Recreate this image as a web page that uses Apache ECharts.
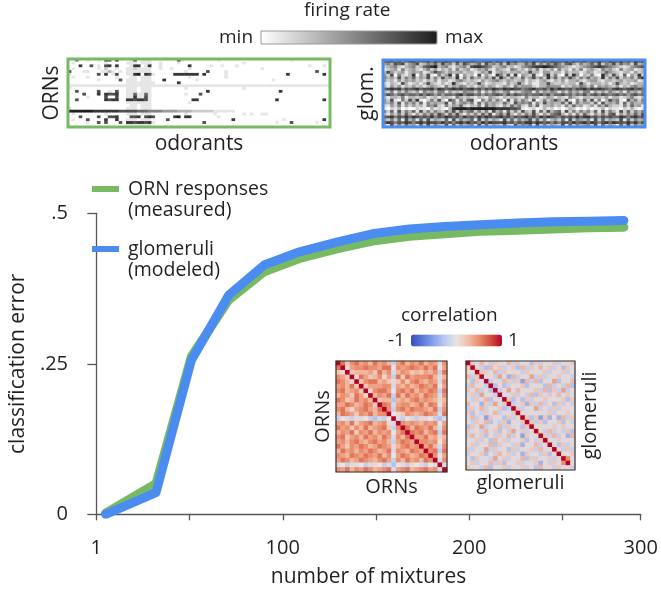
<!DOCTYPE html>
<html><head><meta charset="utf-8">
<script src="https://cdn.jsdelivr.net/npm/echarts@6/dist/echarts.min.js"></script>
<style>html,body{margin:0;padding:0;background:#fff}#c{width:661px;height:594px}</style>
</head><body><div id="c"></div>
<script>
// ---------- data ----------
const seriesNames = ['ORN responses\n(measured)', 'glomeruli\n(modeled)'];
const mixtures = [5, 32, 51, 71, 90, 109, 129, 148, 168, 187, 206, 226, 245, 264, 283];
const ornError = [0.002, 0.051, 0.262, 0.356, 0.403, 0.425, 0.441, 0.454, 0.462, 0.466, 0.470, 0.472, 0.474, 0.476, 0.477];
const glomError = [0.000, 0.036, 0.256, 0.364, 0.414, 0.436, 0.452, 0.466, 0.474, 0.478, 0.481, 0.484, 0.486, 0.487, 0.488];
const xTickValues = [0, 50, 100, 150, 200, 250, 292];
const xLabelValues = [0, 100, 200, 292];
const xLabelText = ['1', '100', '200', '300'];
const yTickValues = [0, 0.25, 0.5];
const yTickText = ['0', '.25', '.5'];

// firing-rate maps: one string per row, digit 0 (min) .. 9 (max)
const ornHeatRows = [
 "00600100 10770800 01701110 00000071 00000000 01000000 00000000 00000100 00000000",
 "01000000 00100000 11101110 01000010 00000000 00000000 10000000 00000000 00000000",
 "00080070 10780800 01880180 01000000 08000001 00100010 00000000 00000000 00100010",
 "01000000 10200100 11211110 01001000 01000000 00000000 00000100 00000000 00000000",
 "70001100 01131010 11111110 00000000 10000070 00010000 00000000 00000000 00007000",
 "10000000 70801700 11890871 00000888 88880800 00010000 00000000 00008000 00000080",
 "01000100 00000100 01101110 00000000 01000000 00010000 00000000 00000000 00000000",
 "00000000 10000070 11101110 00800000 00010000 00000000 00000000 10000000 00000000",
 "00000000 00000000 11111111 00000080 00000000 00000000 00000000 00000000 00000000",
 "11111111 11111111 11111111 11111111 11111111 11111111 11111111 11111111 11111111",
 "10000000 00000000 11101110 00000000 10000000 00000000 10000000 00000000 00000000",
 "00700000 70010700 11101110 00000000 00000080 00000000 00000000 00800000 00000000",
 "00007000 80877800 11611610 00000000 10007000 00000000 00000000 00000000 00000000",
 "00000100 00700700 11811710 00000000 00000000 00000000 00000000 00000000 00000000",
 "00700000 00878800 88788710 00000000 00880000 00000000 00000000 08000000 00000080",
 "00000000 00000000 11111110 00000000 01000000 00000000 00000000 00000000 00000000",
 "00000000 00000000 01101110 00000000 00000000 00000000 00000000 00000000 00000000",
 "10000000 00000000 11101110 00000000 00000000 00000000 00000000 00000000 00000000",
 "99999998 88888877 77766655 55444433 33222222 11111100 00000000 00000000 00000000",
 "01000000 00100000 11101110 00000000 10000000 10000000 10100110 00000000 00000000",
 "00070000 70077800 07780787 00000890 88000000 01000000 00000000 00000000 00000000",
 "01000700 00800800 11101110 00070000 00000000 00000800 00000000 00010000 00000080",
 "00000100 70700070 88788781 00000000 00000700 00000000 00000000 01000700 00001000",
 "00000000 00000000 11111110 00000000 00000000 00000000 00000000 00000000 00000000"
];
const glomHeatRows = [
 "77867578 86778687 78768677 87677868 76878677 68778687 77868778 67787687 78676878",
 "45376724 57235463 74526375 34627453 62745336 47253647 53674253 46372547 36452734",
 "23452134 52367893 45213452 78876523 45231245 67889876 54321234 56787654 32124567",
 "12341523 42135241 32415234 12435214 32154231 42513241 52314251 34215342 15234123",
 "37423413 43412475 42433423 31243713 43233423 73314423 31423312 43123643 21331423",
 "42705213 80427105 24817042 30714208 52718043 27104825 10728403 25108427 31604282",
 "53427253 62437252 73428152 63425372 84253262 47352836 25374253 63428253 72435268",
 "42314243 42313241 33124532 32142345 32432341 32134213 24133421 34421332 34233412",
 "21321731 23137321 31283213 23731232 21423731 31133732 23233173 13332313 73231233",
 "31424132 42313432 15243542 31342431 24315344 42133544 41324354 25143432 41324534",
 "67878576 78677858 76787867 86757687 68787756 78667586 87675778 68787657 87678676",
 "32514253 24153425 51423254 42514253 24513245 51524354 14253425 51424253 24153425",
 "57646756 65757646 46657857 75646567 64757656 56675746 67564657 46757656 75646756",
 "31332513 32341231 33215323 21321432 13233215 23312431 32153213 32332413 31235213",
 "42710527 38102527 20751526 71052525 30715253 17025247 42710526 27150374 51073525",
 "43527153 52615343 37152453 51625343 26317454 61527343 36271534 42617343 51625334",
 "21425142 42315462 15243621 32516342 14263521 52613342 31526341 24153632 21526341",
 "10213010 02110312 10389998 99999998 88877610 12013120 10132010 20113021 10213101",
 "52617253 61725253 26372635 62525173 51625273 27162735 61725253 52617253 17262535",
 "31425263 14253637 52637314 25263714 63731425 37314256 73141526 31425267 14253637",
 "67857686 87676857 68767586 75868767 86757678 67586876 57676868 86757676 68757867",
 "42526173 51627243 26172534 61725243 17262534 72625134 26172543 51726243 27162534",
 "68757687 57868776 86757868 67586877 78675768 86876757 57768678 68757868 77686857",
 "31725263 41627253 27162534 51726243 26217354 61725243 27162534 52716243 16272534"
];
// correlation matrices, lower triangle: '0'-'9' = 0..0.9, 'a'-'i' = -0.1..-0.9, 'X' = 1
const ornCorrTri = [
 "X","6X","21X","542X","6531X","45362X","563452X","3542641X","65236453X","446534652X",
 "5631456436X","36542546355X","b0ab1a0bcab0X","453624563451aX","645253634562b5X",
 "354625463545046X","562453645364a536X","453564356453b4654X","642546534654135645X",
 "364535465346a543654X","54365465463504653465X","465346543564b53645365X",
 "a0b1a0ba10bac0ab10ab0aX","546354653456a456345645aX"
];
const glomCorrTri = [
 "X","2X","a1X","3b2X","1c2aX","b3a1bX","2a3b1cX","a2b4a1bX","1b2a3c1aX","3a1d2b4a2X",
 "b2a3b1a2cbX","2c1b2a3b1a2X","a3b1e2a1c2b1X","1b2a3c1b2d1a2X","c2a4b1a3b2a1c2X",
 "2a1b3a2c1b4a2b1X","b3a2c1b2a3b1e2a1X","1a2b1c3a2b1a2c1b2X","a2b1a3c2a1b2d1a3b1X",
 "2b1a4b2a1c2b1a2b3a1X","b1a2c1b3a2b1d2a1b2c1X","1c2a1b4a2b1a3c2b1a2b1X",
 "a2b1a3b2c1a2b1a2d1b2a5X","2a1b3c1a2b1a2b1c3a1b2a1bX"
];

// ---------- build ----------
const FONT = '"Open Sans", "Noto Sans", sans-serif';
const TXT = '#231f20';
const AX = '#555555';
const GREEN = '#78b964';
const BLUE = '#4a8cf0';

function heatData(rows) {
  const out = [];
  rows.forEach((r, y) => { r.replace(/ /g, '').split('').forEach((ch, x) => out.push([x, y, +ch])); });
  return out;
}
function corrVal(ch) {
  if (ch === 'X') return 1;
  if (ch >= '0' && ch <= '9') return (+ch) / 10;
  return -(ch.charCodeAt(0) - 96) / 10;
}
function corrData(tri) {
  const n = tri.length, out = [];
  for (let i = 0; i < n; i++) for (let j = 0; j < n; j++) {
    const a = Math.max(i, j), b = Math.min(i, j);
    out.push([j, i, corrVal(tri[a][b])]);
  }
  return out;
}
const idx = n => Array.from({length: n}, (_, i) => String(i));
const heatCols = ornHeatRows[0].replace(/ /g, '').length;

const L = {
  main: {left: 83.3, right: 20.3, top: 213.3, bottom: 79.7},
  ornHeat: {left: 68, top: 59, width: 262, height: 68},
  glomHeat: {left: 383, top: 60, width: 262, height: 67},
  ornCorr: {left: 336, top: 361, width: 111, height: 111},
  glomCorr: {left: 466, top: 361, width: 109, height: 109},
  firingBar: {x: 261, y: 31, width: 176, height: 13}
};

const nameStyle = {fontSize: 21, color: TXT, fontFamily: FONT};
function hiddenCat(gridIndex, n, extra) {
  return Object.assign({type: 'category', gridIndex, data: idx(n), axisLine: {show: false},
    axisTick: {show: false}, axisLabel: {show: false}, splitLine: {show: false},
    nameLocation: 'middle', nameTextStyle: nameStyle}, extra);
}

const chart = echarts.init(document.getElementById('c'), null, {renderer: 'canvas'});
chart.setOption({
  animation: false,
  backgroundColor: '#ffffff',
  textStyle: {fontFamily: FONT},
  title: [
    {text: 'firing rate', left: 304, top: 1, padding: 0, textStyle: {fontSize: 19, fontWeight: 'normal', color: TXT, fontFamily: FONT}},
    {text: 'correlation', left: 401, top: 306, padding: 0, textStyle: {fontSize: 19, fontWeight: 'normal', color: TXT, fontFamily: FONT}}
  ],
  legend: [0, 1].map(k => ({
    data: [seriesNames[k]], left: 92, top: k === 0 ? 157.5 : 217.5, orient: 'vertical', padding: 0,
    itemWidth: 27, itemHeight: 6, icon: 'rect', selectedMode: false,
    formatter: n => '\n' + n,
    textStyle: {fontSize: 19.5, lineHeight: 21, color: TXT, fontFamily: FONT, padding: [0, 0, 0, 4]}
  })),
  grid: [L.main, L.ornHeat, L.glomHeat, L.ornCorr, L.glomCorr].map(g => Object.assign({containLabel: false}, g)),
  xAxis: [
    {type: 'value', gridIndex: 0, min: 0, max: 292, offset: 15,
     axisLine: {lineStyle: {color: AX, width: 1.3}},
     axisTick: {show: true, length: 6, customValues: xTickValues, lineStyle: {color: AX, width: 1.3}},
     axisLabel: {customValues: xLabelValues, formatter: v => xLabelText[xLabelValues.indexOf(v)],
       fontSize: 20, color: TXT, fontFamily: FONT, margin: 9},
     splitLine: {show: false},
     name: 'number of mixtures', nameLocation: 'middle', nameGap: 37, nameTextStyle: nameStyle},
    hiddenCat(1, heatCols, {name: 'odorants', nameGap: 7}),
    hiddenCat(2, heatCols, {name: 'odorants', nameGap: 7}),
    hiddenCat(3, ornCorrTri.length, {name: 'ORNs', nameGap: 5, nameTextStyle: Object.assign({}, nameStyle, {fontSize: 20})}),
    hiddenCat(4, glomCorrTri.length, {name: 'glomeruli', nameGap: 3, nameTextStyle: Object.assign({}, nameStyle, {fontSize: 20})})
  ],
  yAxis: [
    {type: 'value', gridIndex: 0, min: 0, max: 0.5, interval: 0.25, offset: 13.3,
     axisLine: {show: true, lineStyle: {color: AX, width: 1.3}},
     axisTick: {show: true, length: 9, lineStyle: {color: AX, width: 1.3}},
     axisLabel: {formatter: v => yTickText[yTickValues.indexOf(v)], fontSize: 20, color: TXT, fontFamily: FONT, margin: 15},
     splitLine: {show: false},
     name: 'classification error', nameLocation: 'middle', nameGap: 37, nameTextStyle: nameStyle},
    hiddenCat(1, ornHeatRows.length, {inverse: true, name: 'ORNs', nameGap: 5}),
    hiddenCat(2, glomHeatRows.length, {inverse: true, name: 'glom.', nameGap: 5}),
    hiddenCat(3, ornCorrTri.length, {inverse: true, name: 'ORNs', nameGap: 3, nameTextStyle: Object.assign({}, nameStyle, {fontSize: 20})}),
    hiddenCat(4, glomCorrTri.length, {inverse: true, position: 'right', name: 'glomeruli', nameGap: 5, nameRotate: 90, nameTextStyle: Object.assign({}, nameStyle, {fontSize: 20})})
  ],
  visualMap: [
    {type: 'continuous', seriesIndex: [2, 3], min: 0, max: 9, orient: 'horizontal', left: 219, top: 28,
     itemWidth: 13, itemHeight: 176, text: ['max', 'min'], textGap: 8, calculable: false, hoverLink: false, padding: 0,
     inRange: {color: ['#ffffff', '#1e1e1e']}, textStyle: {fontSize: 19, color: TXT, fontFamily: FONT}},
    {type: 'continuous', seriesIndex: [4, 5], min: -1, max: 1, orient: 'horizontal', left: 388, top: 331,
     itemWidth: 12, itemHeight: 91, text: ['1', '-1'], textGap: 6, calculable: false, hoverLink: false, padding: 0,
     inRange: {color: ['#3b4cc0', '#5a78d8', '#8aa4ec', '#bccbf0', '#e8e4e4', '#f2c0aa', '#ea8e6e', '#d2503e', '#b40426']},
     textStyle: {fontSize: 19, color: TXT, fontFamily: FONT}}
  ],
  series: [
    {name: seriesNames[0], type: 'line', xAxisIndex: 0, yAxisIndex: 0, data: mixtures.map((x, i) => [x, ornError[i]]),
     symbol: 'none', color: GREEN, lineStyle: {width: 9, color: GREEN, cap: 'round', join: 'round'}, z: 3},
    {name: seriesNames[1], type: 'line', xAxisIndex: 0, yAxisIndex: 0, data: mixtures.map((x, i) => [x, glomError[i]]),
     symbol: 'none', color: BLUE, lineStyle: {width: 9, color: BLUE, cap: 'round', join: 'round'}, z: 4},
    {type: 'heatmap', xAxisIndex: 1, yAxisIndex: 1, data: heatData(ornHeatRows), progressive: 0},
    {type: 'heatmap', xAxisIndex: 2, yAxisIndex: 2, data: heatData(glomHeatRows), progressive: 0},
    {type: 'heatmap', xAxisIndex: 3, yAxisIndex: 3, data: corrData(ornCorrTri), progressive: 0},
    {type: 'heatmap', xAxisIndex: 4, yAxisIndex: 4, data: corrData(glomCorrTri), progressive: 0}
  ],
  graphic: [
    {type: 'rect', z: 100, silent: true, shape: {x: L.ornHeat.left, y: L.ornHeat.top, width: L.ornHeat.width, height: L.ornHeat.height}, style: {fill: 'none', stroke: GREEN, lineWidth: 3}},
    {type: 'rect', z: 100, silent: true, shape: {x: L.glomHeat.left, y: L.glomHeat.top, width: L.glomHeat.width, height: L.glomHeat.height}, style: {fill: 'none', stroke: BLUE, lineWidth: 3}},
    {type: 'rect', z: 100, silent: true, shape: {x: L.ornCorr.left, y: L.ornCorr.top, width: L.ornCorr.width, height: L.ornCorr.height}, style: {fill: 'none', stroke: '#333', lineWidth: 1.2}},
    {type: 'rect', z: 100, silent: true, shape: {x: L.glomCorr.left, y: L.glomCorr.top, width: L.glomCorr.width, height: L.glomCorr.height}, style: {fill: 'none', stroke: '#333', lineWidth: 1.2}},
    {type: 'rect', z: 100, silent: true, shape: L.firingBar, style: {fill: 'none', stroke: '#9a9a9a', lineWidth: 1}}
  ]
});
</script></body></html>
